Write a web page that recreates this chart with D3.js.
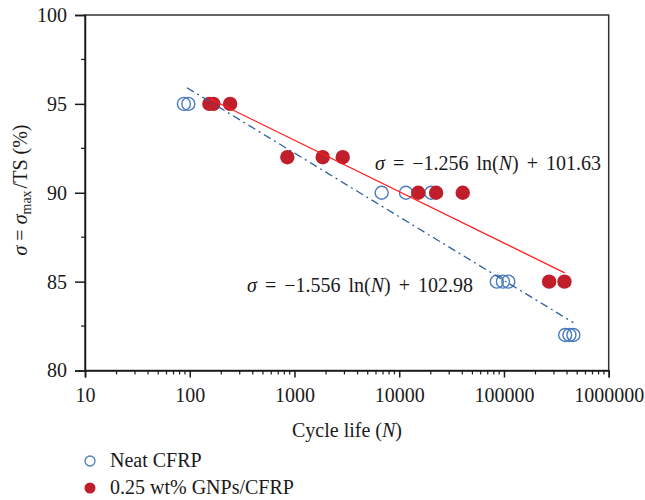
<!DOCTYPE html>
<meta charset="utf-8">
<script src="https://d3js.org/d3.v7.min.js"></script>
<style>
  body { margin: 0; background: #fff; }
  text { font-family: "Liberation Serif", "Times New Roman", serif; fill: #1a1a1a; }
</style>
<div id="chart"></div>
<script>
  // data
  var neatN = [88, 97, 6800, 11600, 20200, 85500, 97800, 110000, 384000, 422000, 460000];
  var neatS = [95, 95, 90, 90, 90, 85, 85, 85, 82, 82, 82];
  var gnpN = [154, 168, 243, 855, 1860, 2890, 15200, 22500, 40400, 270000, 378000];
  var gnpS = [95, 95, 95, 92, 92, 92, 90, 90, 90, 85, 85];
  var fitNeat = { a: -1.556, b: 102.98 };
  var fitGnp = { a: -1.256, b: 101.63 };
  var xTicks = [10, 100, 1000, 10000, 100000, 1000000];
  var yTicks = [80, 85, 90, 95, 100];

  var width = 645, height = 500;
  var plotL = 85, plotR = 608.7, plotT = 15, plotB = 370.5;

  var svg = d3.select("#chart").append("svg")
    .attr("width", width)
    .attr("height", height);

  var x = d3.scaleLog().domain([10, 1000000]).range([plotL, plotR]);
  var y = d3.scaleLinear().domain([80, 100]).range([plotB, plotT]);

  // frame
  svg.append("rect")
    .attr("x", plotL).attr("y", plotT)
    .attr("width", plotR - plotL).attr("height", plotB - plotT)
    .attr("fill", "none").attr("stroke", "#333").attr("stroke-width", 1.5);

  // minor x ticks
  var minor = [];
  for (var p = 10; p < 1000000; p *= 10) {
    for (var k = 2; k <= 9; k++) minor.push(p * k);
  }
  svg.selectAll(".xminor").data(minor).enter().append("line")
    .attr("x1", function (d) { return x(d); }).attr("x2", function (d) { return x(d); })
    .attr("y1", plotB).attr("y2", plotB + 4)
    .attr("stroke", "#1a1a1a").attr("stroke-width", 1.2);

  // x axis
  var xAxis = svg.append("g")
    .attr("transform", "translate(0," + plotB + ")")
    .call(d3.axisBottom(x).tickValues(xTicks).tickFormat(d3.format("d")).tickSize(7).tickPadding(10));
  xAxis.select(".domain").attr("stroke", "#1a1a1a").attr("stroke-width", 1.5);
  xAxis.selectAll(".tick line").attr("stroke", "#1a1a1a").attr("stroke-width", 1.5);
  xAxis.selectAll("text").style("font-size", "20px").style("font-family", "Liberation Serif").attr("fill", "#1a1a1a");

  // minor y ticks
  var yMinor = [82.5, 87.5, 92.5, 97.5];
  svg.selectAll(".yminor").data(yMinor).enter().append("line")
    .attr("x1", plotL - 4).attr("x2", plotL)
    .attr("y1", function (d) { return y(d); }).attr("y2", function (d) { return y(d); })
    .attr("stroke", "#1a1a1a").attr("stroke-width", 1.2);

  // y axis
  var yAxis = svg.append("g")
    .attr("transform", "translate(" + plotL + ",0)")
    .call(d3.axisLeft(y).tickValues(yTicks).tickSize(10).tickPadding(8));
  yAxis.select(".domain").attr("stroke", "#1a1a1a").attr("stroke-width", 1.5);
  yAxis.selectAll(".tick line").attr("stroke", "#1a1a1a").attr("stroke-width", 1.5);
  yAxis.selectAll("text").style("font-size", "20px").style("font-family", "Liberation Serif").attr("fill", "#1a1a1a");

  // points
  var neat = neatN.map(function (n, i) { return { n: n, s: neatS[i] }; });
  var gnp = gnpN.map(function (n, i) { return { n: n, s: gnpS[i] }; });

  svg.selectAll(".neat").data(neat).enter().append("circle")
    .attr("cx", function (d) { return x(d.n); })
    .attr("cy", function (d) { return y(d.s); })
    .attr("r", 6.5)
    .attr("fill", "none")
    .attr("stroke", "#4a7cc0")
    .attr("stroke-width", 1.4);

  svg.selectAll(".gnp").data(gnp).enter().append("circle")
    .attr("cx", function (d) { return x(d.n); })
    .attr("cy", function (d) { return y(d.s); })
    .attr("r", 7.2)
    .attr("fill", "#bf1e2a");

  // fitted lines
  function fitLine(fit, n0, n1) {
    return [n0, n1].map(function (n) { return [x(n), y(fit.a * Math.log(n) + fit.b)]; });
  }
  var line = d3.line();
  svg.append("path")
    .attr("d", line(fitLine(fitNeat, d3.min(neatN) + 6, d3.max(neatN))))
    .attr("fill", "none")
    .attr("stroke", "#2f5f9e")
    .attr("stroke-width", 1.3)
    .attr("stroke-dasharray", "8,4,2,4");

  svg.append("path")
    .attr("d", line(fitLine(fitGnp, d3.min(gnpN), 380000)))
    .attr("fill", "none")
    .attr("stroke", "#ff1f1f")
    .attr("stroke-width", 1.3);

  // equations
  function equation(tx, ty, a, b) {
    var t = svg.append("text").attr("x", tx).attr("y", ty)
      .style("font-size", "20px").style("word-spacing", "3px");
    t.append("tspan").style("font-style", "italic").text("σ");
    t.append("tspan").text(" = −" + Math.abs(a).toFixed(3) + " ln(");
    t.append("tspan").style("font-style", "italic").text("N");
    t.append("tspan").text(") + " + b.toFixed(2));
  }
  equation(375, 170, fitGnp.a, fitGnp.b);
  equation(247, 292, fitNeat.a, fitNeat.b);

  // axis titles
  var xt = svg.append("text")
    .attr("x", 347).attr("y", 437)
    .attr("text-anchor", "middle")
    .style("font-size", "20px");
  xt.append("tspan").text("Cycle life (");
  xt.append("tspan").style("font-style", "italic").text("N");
  xt.append("tspan").text(")");

  var yt = svg.append("text")
    .attr("transform", "translate(27,190) rotate(-90)")
    .attr("text-anchor", "middle")
    .style("font-size", "20px");
  yt.append("tspan").style("font-style", "italic").text("σ");
  yt.append("tspan").text(" = ");
  yt.append("tspan").style("font-style", "italic").text("σ");
  yt.append("tspan").attr("dy", 4).style("font-size", "14px").text("max");
  yt.append("tspan").attr("dy", -4).attr("dx", 2).text("/TS (%)");

  // legend
  var legend = svg.append("g");
  legend.append("circle").attr("cx", 90).attr("cy", 461).attr("r", 5)
    .attr("fill", "none").attr("stroke", "#4a7cc0").attr("stroke-width", 1.3);
  legend.append("text").attr("x", 110).attr("y", 467).style("font-size", "20px").text("Neat CFRP");
  legend.append("circle").attr("cx", 90).attr("cy", 488).attr("r", 5.5).attr("fill", "#bf1e2a");
  legend.append("text").attr("x", 110).attr("y", 494).style("font-size", "20px").text("0.25 wt% GNPs/CFRP");
</script>
